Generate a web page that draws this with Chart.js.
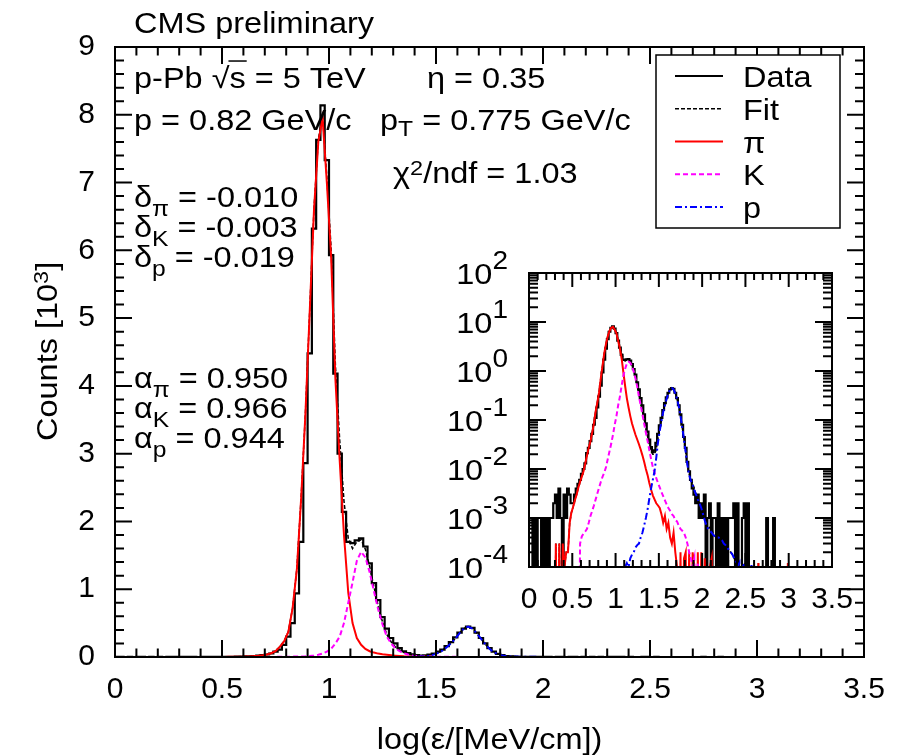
<!DOCTYPE html>
<html>
<head>
<meta charset="utf-8">
<title>CMS preliminary – energy loss fit</title>
<script src="https://cdn.jsdelivr.net/npm/chart.js@4.4.1/dist/chart.umd.min.js"></script>
<style>
  html, body { margin:0; padding:0; background:#ffffff; }
  #wrap { position:relative; width:903px; height:756px; overflow:hidden; background:#fff; }
  #mainChart { position:absolute; left:0; top:0; }
  #insetChart { position:absolute; left:440px; top:240px; }
</style>
</head>
<body>
<div id="wrap">
  <canvas id="mainChart" width="903" height="756"></canvas>
  <canvas id="insetChart" width="440" height="400"></canvas>
</div>
<script>
// ================= DATA (units of 10^3 counts) =================
const binWidth = 0.02;          // log(eps) bin width
const xMin = 0, xMax = 3.5;

// measured histogram (175 bins from 0 to 3.5)
const dataCounts = [
  0.001, 0.001, 0, 0.001, 0, 0.001, 0.001, 0, 0.001, 0,
  0.001, 0, 0.001, 0.001, 0.002, 0.003, 0.001, 0.004, 0.001, 0,
  0.003, 0.001, 0.004, 0.003, 0.002, 0.002, 0.003, 0.004, 0.005, 0.006,
  0.008, 0.01, 0.013, 0.021, 0.027, 0.037, 0.052, 0.08, 0.11, 0.18,
  0.3, 0.5, 0.94, 1.7, 2.86, 4.48, 6.32, 7.63, 8.14, 7.33,
  5.93, 4.18, 3.0, 2.14, 1.7, 1.68, 1.72, 1.75, 1.63, 1.38,
  1.09, 0.84, 0.59, 0.42, 0.28, 0.2, 0.13, 0.085, 0.058, 0.04,
  0.028, 0.022, 0.024, 0.034, 0.052, 0.078, 0.11, 0.16, 0.22, 0.29,
  0.36, 0.42, 0.45, 0.43, 0.36, 0.28, 0.2, 0.13, 0.08, 0.045,
  0.027, 0.014, 0.009, 0.006, 0.004, 0.003, 0.002, 0.003, 0.001, 0.002,
  0.001, 0.003, 0, 0.001, 0.002, 0, 0.001, 0.001, 0, 0.002,
  0, 0.001, 0, 0.001, 0, 0.001, 0.001, 0.001, 0.002, 0,
  0.002, 0, 0, 0.001, 0.002, 0, 0.002, 0, 0, 0,
  0, 0, 0, 0, 0, 0, 0, 0.001, 0, 0,
  0, 0.001, 0, 0, 0, 0, 0, 0, 0, 0,
  0, 0, 0, 0, 0, 0, 0, 0, 0, 0,
  0, 0, 0, 0, 0, 0, 0, 0, 0, 0,
  0, 0, 0, 0, 0
];

// total fit (sampled at bin centres)
const fitCurve = [
  0, 0, 0, 0, 0, 0, 0, 0, 0, 0,
  0, 0, 0, 0, 0, 0.0003, 0, 0.0003, 0, 0.0003,
  0.0001, 0.0002, 0.0002, 0.0008, 0.0013, 0.0017, 0.0023, 0.003, 0.0042, 0.0058,
  0.0074, 0.0095, 0.0135, 0.0196, 0.0278, 0.0381, 0.0564, 0.0868, 0.1524, 0.2332,
  0.3742, 0.7255, 1.307, 2.3585, 3.611, 5.116, 6.623, 7.633, 8.0, 7.08,
  6.02, 4.3, 3.2, 2.3, 1.75, 1.6, 1.7, 1.73, 1.59, 1.335,
  1.035, 0.75, 0.52, 0.3323, 0.2254, 0.1495, 0.0997, 0.066, 0.046, 0.0317,
  0.0238, 0.0199, 0.0199, 0.0255, 0.042, 0.0658, 0.0996, 0.1486, 0.2034, 0.2725,
  0.3524, 0.4218, 0.4515, 0.4216, 0.3511, 0.271, 0.1907, 0.1208, 0.0706, 0.0407,
  0.0226, 0.0123, 0.0079, 0.006, 0.0051, 0.004, 0.003, 0.0027, 0.002, 0.0019,
  0.0012, 0.00105, 0.0007, 0.0006, 0.00065, 0.00065, 0.00045, 0.00042, 0.0004, 0.0004,
  0.00038, 0.00035, 0.0003, 0.00028, 0.00025, 0.00022, 0.0002, 0.00018, 0.00015, 0.00013,
  0.0001, 0.00012, 0, 0.0001, 0.00012, 0, 0.0001, 0, 0.00011, 0,
  0, 0, 0.00012, 0, 0, 0, 0, 0, 0, 0,
  0, 0, 0, 0, 0, 0, 0, 0, 0, 0.00012,
  0, 0, 0, 0, 0, 0, 0, 0, 0, 0,
  0, 0, 0, 0, 0, 0, 0, 0, 0, 0,
  0, 0, 0, 0, 0
];

// pion component
const pionCurve = [
  0, 0, 0, 0, 0, 0, 0, 0, 0, 0,
  0, 0, 0, 0, 0, 0.0003, 0, 0.0003, 0, 0.0003,
  0.0001, 0.0002, 0.0002, 0.0008, 0.0013, 0.0017, 0.0023, 0.003, 0.0042, 0.0055,
  0.007, 0.009, 0.013, 0.019, 0.027, 0.037, 0.055, 0.085, 0.15, 0.23,
  0.37, 0.72, 1.3, 2.35, 3.6, 5.1, 6.6, 7.6, 7.95, 7.0,
  5.9, 4.1, 2.9, 1.8, 0.95, 0.5, 0.28, 0.18, 0.12, 0.085,
  0.065, 0.05, 0.04, 0.032, 0.025, 0.019, 0.014, 0.01, 0.0075, 0.0052,
  0.0038, 0.0029, 0.0024, 0.002, 0.0018, 0.0016, 0.0012, 0.0008, 0.0011, 0.0006,
  0.0008, 0.0004, 0.0003, 0.0005, 0.0002, 0.0001, 0, 0.0002, 0, 0.00015,
  0.0002, 0, 0.0002, 0, 0.0002, 0.0001, 0, 0.0002, 0, 0.0002,
  0, 0.00015, 0, 0, 0.0001, 0.00015, 0, 0, 0, 0,
  0, 0, 0, 0, 0, 0, 0, 0, 0, 0,
  0, 0, 0, 0, 0, 0, 0, 0, 0, 0,
  0, 0, 0.00012, 0, 0, 0, 0, 0, 0, 0,
  0, 0, 0, 0, 0, 0, 0, 0, 0, 0.00012,
  0, 0, 0, 0, 0, 0, 0, 0, 0, 0,
  0, 0, 0, 0, 0, 0, 0, 0, 0, 0,
  0, 0, 0, 0, 0
];

// kaon component
const kaonCurve = [
  0, 0, 0, 0, 0, 0, 0, 0, 0, 0,
  0, 0, 0, 0, 0, 0, 0, 0, 0, 0,
  0, 0, 0, 0, 0, 0, 0, 0, 0, 0.0003,
  0.00042, 0.00048, 0.00053, 0.0006, 0.0008, 0.0011, 0.0014, 0.0018, 0.0024, 0.0032,
  0.0042, 0.0055, 0.007, 0.0085, 0.011, 0.016, 0.023, 0.033, 0.05, 0.08,
  0.12, 0.2, 0.3, 0.5, 0.8, 1.1, 1.42, 1.55, 1.47, 1.25,
  0.97, 0.7, 0.48, 0.3, 0.2, 0.13, 0.085, 0.055, 0.037, 0.024,
  0.016, 0.011, 0.0085, 0.0065, 0.0052, 0.0042, 0.0034, 0.0028, 0.0023, 0.0019,
  0.0016, 0.0014, 0.0012, 0.0011, 0.0009, 0.00085, 0.0007, 0.0006, 0.00055, 0.0005,
  0.0004, 0.0003, 0.0002, 0.00015, 0.0001, 0.00015, 0, 0.00012, 0, 0.0001,
  0, 0, 0, 0, 0, 0, 0, 0, 0, 0,
  0, 0, 0, 0, 0, 0, 0, 0, 0, 0,
  0, 0, 0, 0, 0, 0, 0, 0, 0, 0,
  0, 0, 0, 0, 0, 0, 0, 0, 0, 0,
  0, 0, 0, 0, 0, 0, 0, 0, 0, 0,
  0, 0, 0, 0, 0, 0, 0, 0, 0, 0,
  0, 0, 0, 0, 0, 0, 0, 0, 0, 0,
  0, 0, 0, 0, 0
];

// proton component
const protonCurve = [
  0, 0, 0, 0, 0, 0, 0, 0, 0, 0,
  0, 0, 0, 0, 0, 0, 0, 0, 0, 0,
  0, 0, 0, 0, 0, 0, 0, 0, 0, 0,
  0, 0, 0, 0, 0, 0, 0, 0, 0, 0,
  0, 0, 0, 0, 0, 0, 0, 0, 0, 0,
  0, 0, 0, 0, 0, 0.0001, 0.00012, 0.0001, 0.00015, 0.00018,
  0.0002, 0.00025, 0.00028, 0.0003, 0.0004, 0.0005, 0.0007, 0.001, 0.0015, 0.0025,
  0.004, 0.006, 0.009, 0.017, 0.035, 0.06, 0.095, 0.145, 0.2, 0.27,
  0.35, 0.42, 0.45, 0.42, 0.35, 0.27, 0.19, 0.12, 0.07, 0.04,
  0.022, 0.012, 0.0075, 0.0058, 0.0048, 0.0037, 0.003, 0.0024, 0.002, 0.0016,
  0.0012, 0.0009, 0.0007, 0.0006, 0.00055, 0.0005, 0.00045, 0.00042, 0.0004, 0.0004,
  0.00038, 0.00035, 0.0003, 0.00028, 0.00025, 0.00022, 0.0002, 0.00018, 0.00015, 0.00013,
  0.0001, 0.00012, 0, 0.0001, 0.00012, 0, 0.0001, 0, 0.00011, 0,
  0, 0, 0, 0, 0, 0, 0, 0, 0, 0,
  0, 0, 0, 0, 0, 0, 0, 0, 0, 0,
  0, 0, 0, 0, 0, 0, 0, 0, 0, 0,
  0, 0, 0, 0, 0, 0, 0, 0, 0, 0,
  0, 0, 0, 0, 0
];

// tick labels
const mainXTicks = [0, 0.5, 1, 1.5, 2, 2.5, 3, 3.5];
const mainYTicks = [0, 1, 2, 3, 4, 5, 6, 7, 8, 9];
const insetXTicks = [0, 0.5, 1, 1.5, 2, 2.5, 3, 3.5];
const insetDecades = [-4, -3, -2, -1, 0, 1, 2];

// ================= STYLE =================
const FAMILY = "'Liberation Sans', Arial, Helvetica, sans-serif";
const SX = 1.12;                 // horizontal text stretch of the original rendering
const styles = {
  data:   { label: 'Data', color: '#000000', dash: [],          width: 2.2 },
  fit:    { label: 'Fit',  color: '#000000', dash: [4, 2],      width: 1.5 },
  pion:   { label: 'π',    color: '#ff0000', dash: [],          width: 2 },
  kaon:   { label: 'K',    color: '#ff00ff', dash: [5, 3],      width: 2 },
  proton: { label: 'p',    color: '#0000ff', dash: [7, 3, 2, 3], width: 2 }
};

// ================= helpers =================
const edges = dataCounts.map((_, i) => Math.round(i * binWidth * 1e4) / 1e4).concat([xMax]);
const centers = dataCounts.map((_, i) => Math.round((i + 0.5) * binWidth * 1e4) / 1e4);

function histPoints(vals, floor) {
  const pts = vals.map((v, i) => ({ x: edges[i], y: (floor && v <= 0) ? floor : v }));
  pts.push({ x: edges[vals.length], y: pts[pts.length - 1].y });
  return pts;
}
function curvePoints(vals, floor) {
  return vals.map((v, i) => ({ x: centers[i], y: (floor && v <= 0) ? floor : v }));
}
function lineDs(st, pts, extra) {
  return Object.assign({
    label: st.label, data: pts, borderColor: st.color, backgroundColor: st.color,
    borderWidth: st.width, borderDash: st.dash, pointRadius: 0, tension: 0, fill: false
  }, extra || {});
}
function makeDatasets(floor) {
  // index 0 is painted last (on top)
  return [
    lineDs(styles.proton, curvePoints(protonCurve, floor)),
    lineDs(styles.kaon, curvePoints(kaonCurve, floor)),
    lineDs(styles.pion, curvePoints(pionCurve, floor)),
    lineDs(styles.fit, curvePoints(fitCurve, floor)),
    // 'before': each bin value is held from its lower edge to its upper edge
    lineDs(styles.data, histPoints(dataCounts, floor), { stepped: 'before' })
  ];
}

function partFont(size, kind, o) {
  if (kind === 'sub') return Math.round(size * (o.subScale || 0.76));
  if (kind === 'sup') return Math.round(size * (o.supScale || 0.72));
  return size;
}
function measureParts(ctx, parts, size, o) {
  o = o || {};
  let w = 0;
  ctx.save();
  for (const [t, kind] of parts) {
    ctx.font = partFont(size, kind, o) + 'px ' + FAMILY;
    w += ctx.measureText(t).width * SX;
  }
  ctx.restore();
  return w;
}
function drawParts(ctx, parts, x, y, size, o) {
  o = o || {};
  const subDy = o.sub !== undefined ? o.sub : 9;
  const supDy = o.sup !== undefined ? o.sup : -9;
  let cx = x;
  ctx.save();
  ctx.fillStyle = '#000'; ctx.strokeStyle = '#000';
  ctx.textBaseline = 'alphabetic'; ctx.textAlign = 'left';
  for (const [t, kind] of parts) {
    const fs = partFont(size, kind, o);
    const dy = kind === 'sub' ? subDy : (kind === 'sup' ? supDy : 0);
    ctx.font = fs + 'px ' + FAMILY;
    const w = ctx.measureText(t).width * SX;
    ctx.save(); ctx.translate(cx, y + dy); ctx.scale(SX, 1); ctx.fillText(t, 0, 0); ctx.restore();
    if (kind === 'over') {
      ctx.lineWidth = 1.5; ctx.beginPath();
      ctx.moveTo(cx - 1, y - size * 0.93); ctx.lineTo(cx + w + 1, y - size * 0.93); ctx.stroke();
    }
    cx += w;
  }
  ctx.restore();
  return cx - x;
}

function drawFrameAndTicks(chart, cfg) {
  const ctx = chart.ctx, a = chart.chartArea, xs = chart.scales.x, ys = chart.scales.y;
  ctx.save();
  ctx.strokeStyle = '#000'; ctx.setLineDash([]); ctx.lineWidth = cfg.tickWidth;
  ctx.beginPath();
  const vt = (v, len) => { const px = xs.getPixelForValue(v);
    ctx.moveTo(px, a.bottom); ctx.lineTo(px, a.bottom - len);
    ctx.moveTo(px, a.top); ctx.lineTo(px, a.top + len); };
  const ht = (v, len) => { const py = ys.getPixelForValue(v);
    ctx.moveTo(a.left, py); ctx.lineTo(a.left + len, py);
    ctx.moveTo(a.right, py); ctx.lineTo(a.right - len, py); };
  cfg.xMajor.forEach(v => vt(v, cfg.xMajorLen));
  cfg.xMinor.forEach(v => vt(v, cfg.xMinorLen));
  cfg.yMajor.forEach(v => ht(v, cfg.yMajorLen));
  cfg.yMinor.forEach(v => ht(v, cfg.yMinorLen));
  ctx.stroke();
  ctx.lineWidth = cfg.frameWidth;
  ctx.strokeRect(a.left, a.top, a.right - a.left, a.bottom - a.top);
  ctx.restore();
}

// minor tick positions (axis decoration only)
const linMinorX = []; for (let i = 1; i < 35; i++) if (i % 5) linMinorX.push(i / 10);
const linMinorY = []; for (let i = 1; i < 45; i++) if (i % 5) linMinorY.push(i / 5);
const logMinorY = []; for (let d = -4; d < 2; d++) for (let m = 2; m <= 9; m++) logMinorY.push(m * Math.pow(10, d));

// ================= main chart decorations =================
const annotations = [
  { parts: [['CMS preliminary']], x: 134, y: 33 },
  { parts: [['p-Pb '], ['√'], ['s', 'over'], [' = 5 TeV']], x: 134, y: 88 },
  { parts: [['η = 0.35']], x: 427, y: 88 },
  { parts: [['p = 0.82 GeV/c']], x: 134, y: 130 },
  { parts: [['p'], ['T', 'sub'], [' = 0.775 GeV/c']], x: 380, y: 130, o: { sub: 6 } },
  { parts: [['χ'], ['2', 'sup'], ['/ndf = 1.03']], x: 393, y: 183, o: { sup: -8 } },
  { parts: [['δ'], ['π', 'sub'], [' = -0.010']], x: 134, y: 207 },
  { parts: [['δ'], ['K', 'sub'], [' = -0.003']], x: 134, y: 237 },
  { parts: [['δ'], ['p', 'sub'], [' = -0.019']], x: 134, y: 267 },
  { parts: [['α'], ['π', 'sub'], [' = 0.950']], x: 134, y: 388 },
  { parts: [['α'], ['K', 'sub'], [' = 0.966']], x: 134, y: 418 },
  { parts: [['α'], ['p', 'sub'], [' = 0.944']], x: 134, y: 448 }
];
const legendOrder = ['data', 'fit', 'pion', 'kaon', 'proton'];

const mainDecor = {
  id: 'mainDecor',
  afterDraw(chart) {
    const ctx = chart.ctx, a = chart.chartArea;
    drawFrameAndTicks(chart, {
      xMajor: mainXTicks, xMinor: linMinorX, yMajor: mainYTicks, yMinor: linMinorY,
      xMajorLen: 17, xMinorLen: 8.5, yMajorLen: 17, yMinorLen: 9, tickWidth: 2, frameWidth: 2
    });
    // texts
    annotations.forEach(an => drawParts(ctx, an.parts, an.x, an.y, 29, an.o));
    // x axis title
    const xt = [['log(ε/[MeV/cm])']];
    const wx = measureParts(ctx, xt, 29);
    drawParts(ctx, xt, (a.left + a.right) / 2 - wx / 2, 749, 29);
    // y axis title (rotated)
    ctx.save();
    ctx.translate(57, 441); ctx.rotate(-Math.PI / 2);
    drawParts(ctx, [['Counts [10'], ['3', 'sup'], [']']], 0, 0, 29, { sup: -9 });
    ctx.restore();
    // legend
    const bx = 656, by = 55, bw = 184, bh = 173;
    ctx.save();
    ctx.fillStyle = '#fff'; ctx.fillRect(bx, by, bw, bh);
    ctx.strokeStyle = '#000'; ctx.lineWidth = 1.5; ctx.setLineDash([]);
    ctx.strokeRect(bx, by, bw, bh);
    legendOrder.forEach((key, i) => {
      const st = styles[key];
      const ry = 76 + i * 32.75;
      ctx.strokeStyle = st.color; ctx.lineWidth = st.width; ctx.setLineDash(st.dash);
      ctx.beginPath(); ctx.moveTo(675, ry); ctx.lineTo(723, ry); ctx.stroke();
      ctx.setLineDash([]);
      drawParts(ctx, [[st.label]], 743, ry + 11, 29);
    });
    ctx.restore();
  }
};

const insetDecor = {
  id: 'insetDecor',
  afterDraw(chart) {
    const ctx = chart.ctx, ys = chart.scales.y;
    drawFrameAndTicks(chart, {
      xMajor: insetXTicks, xMinor: linMinorX,
      yMajor: insetDecades.map(d => Math.pow(10, d)), yMinor: logMinorY,
      xMajorLen: 14, xMinorLen: 7, yMajorLen: 17, yMinorLen: 9, tickWidth: 2, frameWidth: 2
    });
    const rightEdge = chart.chartArea.left - 21;
    insetDecades.forEach(d => {
      const py = ys.getPixelForValue(Math.pow(10, d));
      const parts = [['10'], [String(d), 'sup']];
      const o = { sup: -15, supScale: 0.85 };
      const w = measureParts(ctx, parts, 29, o);
      drawParts(ctx, parts, rightEdge - w, py + 11, 29, o);
    });
  }
};

const tickFont = { family: FAMILY, size: 30 };

new Chart(document.getElementById('mainChart'), {
  type: 'line',
  data: { datasets: makeDatasets(null) },
  options: {
    responsive: false, animation: false, devicePixelRatio: 1, events: [],
    layout: { padding: { left: 0, right: 39, top: 47, bottom: 0 } },
    elements: { point: { radius: 0 }, line: { tension: 0 } },
    plugins: { legend: { display: false }, tooltip: { enabled: false }, title: { display: false } },
    scales: {
      x: {
        type: 'linear', min: xMin, max: xMax,
        afterBuildTicks: s => { s.ticks = mainXTicks.map(v => ({ value: v })); },
        afterFit: s => { s.height = 99; },
        grid: { display: false, drawTicks: false }, border: { display: false },
        ticks: { font: tickFont, color: '#000', padding: 15, maxRotation: 0, minRotation: 0, autoSkip: false,
                 callback: v => String(v) }
      },
      y: {
        type: 'linear', min: 0, max: 9,
        afterBuildTicks: s => { s.ticks = mainYTicks.map(v => ({ value: v })); },
        afterFit: s => { s.width = 115; },
        grid: { display: false, drawTicks: false }, border: { display: false },
        ticks: { font: tickFont, color: '#000', padding: 20, callback: v => String(v) }
      }
    }
  },
  plugins: [mainDecor]
});

new Chart(document.getElementById('insetChart'), {
  type: 'line',
  data: { datasets: makeDatasets(1e-7) },
  options: {
    responsive: false, animation: false, devicePixelRatio: 1, events: [],
    layout: { padding: { left: 0, right: 48, top: 33, bottom: 0 } },
    elements: { point: { radius: 0 }, line: { tension: 0 } },
    plugins: { legend: { display: false }, tooltip: { enabled: false }, title: { display: false } },
    scales: {
      x: {
        type: 'linear', min: xMin, max: xMax,
        afterBuildTicks: s => { s.ticks = insetXTicks.map(v => ({ value: v })); },
        afterFit: s => { s.height = 73; },
        grid: { display: false, drawTicks: false }, border: { display: false },
        ticks: { font: tickFont, color: '#000', padding: 15, maxRotation: 0, minRotation: 0, autoSkip: false,
                 callback: v => String(v) }
      },
      y: {
        type: 'logarithmic', min: 1e-4, max: 100,
        afterBuildTicks: s => { s.ticks = insetDecades.map(d => ({ value: Math.pow(10, d), major: true })); },
        afterFit: s => { s.width = 89; },
        grid: { display: false, drawTicks: false }, border: { display: false },
        ticks: { display: false }
      }
    }
  },
  plugins: [insetDecor]
});
</script>
</body>
</html>
